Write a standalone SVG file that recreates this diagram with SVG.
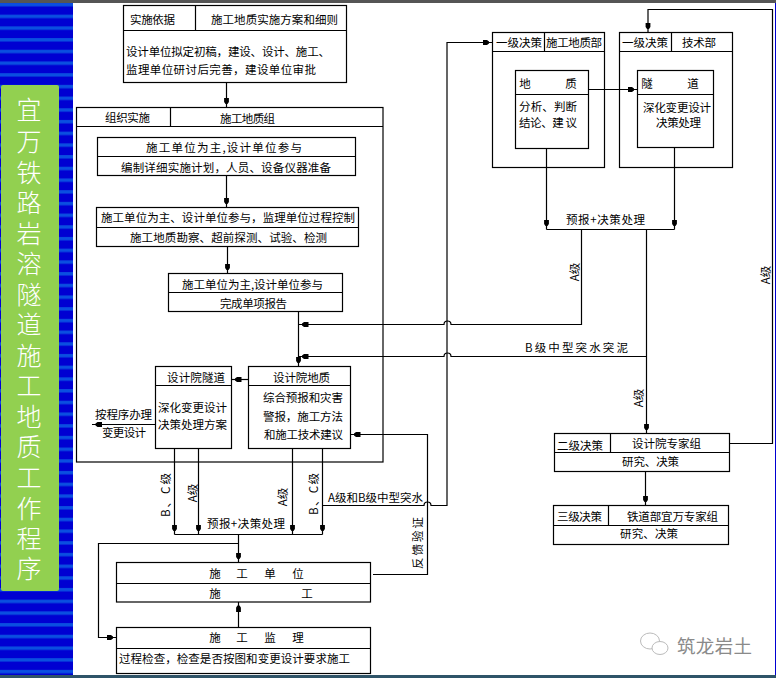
<svg xmlns="http://www.w3.org/2000/svg" width="776" height="678" viewBox="0 0 776 678">
<style>
.b{fill:#fff;stroke:#000;stroke-width:1.2}
.l{fill:none;stroke:#000;stroke-width:1.2}
.c{fill:none;stroke:#000;stroke-width:1.2;marker-end:url(#ah)}
text{font-family:"Noto Sans CJK SC","Liberation Sans",sans-serif;font-size:11.5px;fill:#000;dominant-baseline:central}
.m{text-anchor:middle}
.g{font-size:25px;fill:#fff;text-anchor:middle;font-weight:300}
.w{font-size:18.5px;fill:#8a8a8a}
</style>
<defs>
<pattern id="st" width="10" height="11.7" patternUnits="userSpaceOnUse"><rect width="10" height="11.7" fill="#0000d2"/><rect y="3" width="10" height="3.4" fill="#0a50e0"/></pattern>
<marker id="ah" markerUnits="userSpaceOnUse" markerWidth="12" markerHeight="8" refX="10" refY="3" orient="auto" viewBox="0 0 12 6"><path d="M0 0.6H4.5L6.5 2V4L4.5 5.4H0Z" fill="#000"/></marker>
</defs>
<rect id="page" width="776" height="678" fill="#fff"/>
<rect id="band-left" x="0" y="0" width="73" height="678" fill="url(#st)"/>
<rect id="band-right" x="775" y="0" width="1" height="678" fill="#0000d2"/>
<rect id="band-top" x="0" y="0" width="776" height="3" fill="#555"/>
<rect id="band-bottom" x="0" y="675" width="776" height="3" fill="#2f5468"/>
<g id="title">
<rect x="1" y="85" width="58" height="506" rx="2" fill="#92d050"/>
<text class="g"><tspan x="29" y="108">宜</tspan><tspan x="29" y="140">万</tspan><tspan x="29" y="171">铁</tspan><tspan x="29" y="201">路</tspan><tspan x="29" y="232">岩</tspan><tspan x="29" y="262">溶</tspan><tspan x="29" y="293">隧</tspan><tspan x="29" y="323">道</tspan><tspan x="29" y="354">施</tspan><tspan x="29" y="384">工</tspan><tspan x="29" y="415">地</tspan><tspan x="29" y="445">质</tspan><tspan x="29" y="476">工</tspan><tspan x="29" y="507">作</tspan><tspan x="29" y="537">程</tspan><tspan x="29" y="567">序</tspan></text>
</g>
<g id="n-basis">
<rect class="b" x="123.500" y="5.500" width="223" height="77"/><path class="l" d="M123.500 30.500H346.500M195.500 5.500V30.500"/>
<text x="130" y="19" textLength="45">实施依据</text><text x="211" y="19" textLength="127">施工地质实施方案和细则</text>
<text x="126" y="51" textLength="204">设计单位拟定初稿，建设、设计、施工、</text><text x="126" y="69" textLength="190">监理单位研讨后完善，建设单位审批</text>
</g>
<g id="n-org">
<rect class="b" x="76.500" y="107.500" width="306.500" height="354.500"/><path class="l" d="M76.500 126.500H383M170.500 107.500V126.500"/>
<text x="105" y="117" textLength="45">组织实施</text><text x="220" y="118" textLength="55">施工地质组</text>
</g>
<g id="n-s1">
<rect class="b" x="97.500" y="137.500" width="258" height="38"/><path class="l" d="M97.500 156.500H355.500"/>
<text x="146" y="147" textLength="156">施工单位为主,设计单位参与</text><text x="121" y="167" textLength="210">编制详细实施计划，人员、设备仪器准备</text>
</g>
<g id="n-s2">
<rect class="b" x="96.500" y="207.500" width="262" height="39"/><path class="l" d="M96.500 227.500H358.500"/>
<text x="101" y="217" textLength="254">施工单位为主、设计单位参与，监理单位过程控制</text><text x="130" y="237" textLength="197">施工地质勘察、超前探测、试验、检测</text>
</g>
<g id="n-s3">
<rect class="b" x="168.500" y="273.500" width="174" height="38"/><path class="l" d="M168.500 292.500H342.500"/>
<text x="182" y="284" textLength="141">施工单位为主,设计单位参与</text><text x="220" y="303" textLength="67">完成单项报告</text>
</g>
<g id="n-tunnel">
<rect class="b" x="155.500" y="366.500" width="76" height="82"/><path class="l" d="M155.500 385.500H231.500"/>
<text x="167" y="377" textLength="58">设计院隧道</text><text x="158" y="407" textLength="69">深化变更设计</text><text x="158" y="424" textLength="69">决策处理方案</text>
</g>
<g id="n-geo">
<rect class="b" x="248.500" y="366.500" width="102" height="82"/><path class="l" d="M248.500 385.500H350.500"/>
<text x="273" y="377" textLength="57">设计院地质</text><text x="263" y="397" textLength="80">综合预报和灾害</text><text x="263" y="416" textLength="80">警报，施工方法</text><text x="264" y="434" textLength="79">和施工技术建议</text>
</g>
<g id="n-d1">
<rect class="b" x="492.500" y="32.500" width="112" height="135"/><path class="l" d="M492.500 51.500H604.500M544.500 32.500V51.500"/>
<text x="496" y="42" textLength="46">一级决策</text><text x="546" y="42" textLength="56">施工地质部</text>
</g>
<g id="n-d1a">
<rect class="b" x="515.500" y="70.500" width="73" height="78"/><path class="l" d="M515.500 94.500H588.500"/>
<text class="m" x="525" y="83">地</text><text class="m" x="571" y="83">质</text><text x="519" y="106" textLength="58">分析、判断</text><text x="519" y="122" textLength="58">结论、建 议</text>
</g>
<g id="n-d2">
<rect class="b" x="619.500" y="32.500" width="113" height="135"/><path class="l" d="M619.500 51.500H732.500M671.500 32.500V51.500"/>
<text x="622" y="42" textLength="46">一级决策</text><text x="682" y="42" textLength="34">技术部</text>
</g>
<g id="n-d2a">
<rect class="b" x="637.500" y="70.500" width="76" height="77"/><path class="l" d="M637.500 94.500H713.500"/>
<text class="m" x="647" y="83">隧</text><text class="m" x="693" y="83">道</text><text x="643" y="107" textLength="68">深化变更设计</text><text x="656" y="122" textLength="45">决策处理</text>
</g>
<g id="n-l2">
<rect class="b" x="554.500" y="433.500" width="175" height="38"/><path class="l" d="M554.500 452.500H729.500M610.500 433.500V452.500"/>
<text x="557" y="445" textLength="46">二级决策</text><text x="632" y="443" textLength="69">设计院专家组</text><text x="622" y="461" textLength="57">研究、决策</text>
</g>
<g id="n-l3">
<rect class="b" x="553.500" y="505.500" width="175" height="39"/><path class="l" d="M553.500 525.500H728.500M608.500 505.500V525.500"/>
<text x="557" y="516" textLength="45">三级决策</text><text x="627" y="516" textLength="91">铁道部宜万专家组</text><text x="620" y="533" textLength="58">研究、决策</text>
</g>
<g id="n-con">
<rect class="b" x="116.500" y="562.500" width="254" height="39.500"/><path class="l" d="M116.500 583.500H370.500"/>
<text class="m" x="215" y="573">施</text><text class="m" x="242" y="573">工</text><text class="m" x="270" y="573">单</text><text class="m" x="298" y="573">位</text><text class="m" x="215" y="593">施</text><text class="m" x="307" y="593">工</text>
</g>
<g id="n-sup">
<rect class="b" x="116.500" y="627.500" width="254" height="46"/><path class="l" d="M116.500 648.500H370.500"/>
<text class="m" x="215" y="637">施</text><text class="m" x="242" y="637">工</text><text class="m" x="270" y="637">监</text><text class="m" x="298" y="637">理</text><text x="119" y="658" textLength="231">过程检查，检查是否按图和变更设计要求施工</text>
</g>
<g id="connectors">
<path class="c" d="M226.500 82.500V107.500"/>
<path class="c" d="M226.500 175.500V207.500"/>
<path class="c" d="M227.500 246.500V273.500"/>
<path class="c" d="M298.500 311.500V366.500"/>
<path class="c" d="M581.500 229.500V324.500H451a3.500 3.500 0 0 0-7 0H298.500"/>
<path class="c" d="M646.500 356.500H451a3.500 3.500 0 0 0-7 0H298.500"/>
<path class="c" d="M248.500 379.500H231.500"/>
<path class="c" d="M155.500 424.500H92"/>
<path class="c" d="M373 574.500H427.500V434.500H350.500"/>
<path class="c" d="M322.500 505.500H424a3.500 3.500 0 0 1 7 0H447V42.500H492.500"/>
<path class="c" d="M174.500 448.500V534.500"/>
<path class="c" d="M198.500 448.500V534.500"/>
<path class="c" d="M292.500 448.500V534.500"/>
<path class="c" d="M322.500 448.500V534.500"/>
<path class="l" d="M174.500 534.500H322.500"/>
<path class="c" d="M238.500 534.500V562.500"/>
<path class="c" d="M238.500 543.500H98.500V637.500H116.500"/>
<path class="c" d="M238.500 627.500V602"/>
<path class="c" d="M588.500 89.500H637.500"/>
<path class="c" d="M546.500 148.500V229.500"/>
<path class="c" d="M674.500 147.500V229.500"/>
<path class="l" d="M546.500 229.500H674.500"/>
<path class="c" d="M646.500 229.500V433.500"/>
<path class="c" d="M729.500 443.500H772.500V9.500H648V32.500"/>
<path class="c" d="M645.500 471.500V505.500"/>
</g>
<g id="connector-labels">
<text x="566" y="219" textLength="79">预报+决策处理</text>
<text x="525" y="347" textLength="103">B级中型突水突泥</text>
<text x="207" y="523" textLength="78">预报+决策处理</text>
<text x="328" y="497" textLength="95">A级和B级中型突水</text>
<text x="95" y="414" textLength="57">按程序办理</text>
<text x="102" y="432" textLength="44">变更设计</text>
<text class="m" transform="translate(574 272) rotate(-90)">A级</text>
<text class="m" transform="translate(765 275) rotate(-90)">A级</text>
<text class="m" transform="translate(638 398) rotate(-90)">A级</text>
<text class="m" transform="translate(165 495) rotate(-90)" textLength="44">B、C级</text>
<text class="m" transform="translate(192 493) rotate(-90)">A级</text>
<text class="m" transform="translate(282 497) rotate(-90)">A级</text>
<text class="m" transform="translate(313 494) rotate(-90)" textLength="42">B、C级</text>
<text class="m" transform="translate(417 543) rotate(-90)" textLength="52">反馈验证</text>
</g>
<g id="watermark">
<ellipse cx="650" cy="641" rx="9.500" ry="8" fill="#fff" stroke="#bbb"/>
<ellipse cx="660" cy="648" rx="8" ry="6.500" fill="#fff" stroke="#bbb"/>
<text class="w" x="677" y="645" textLength="75">筑龙岩土</text>
</g>
</svg>
